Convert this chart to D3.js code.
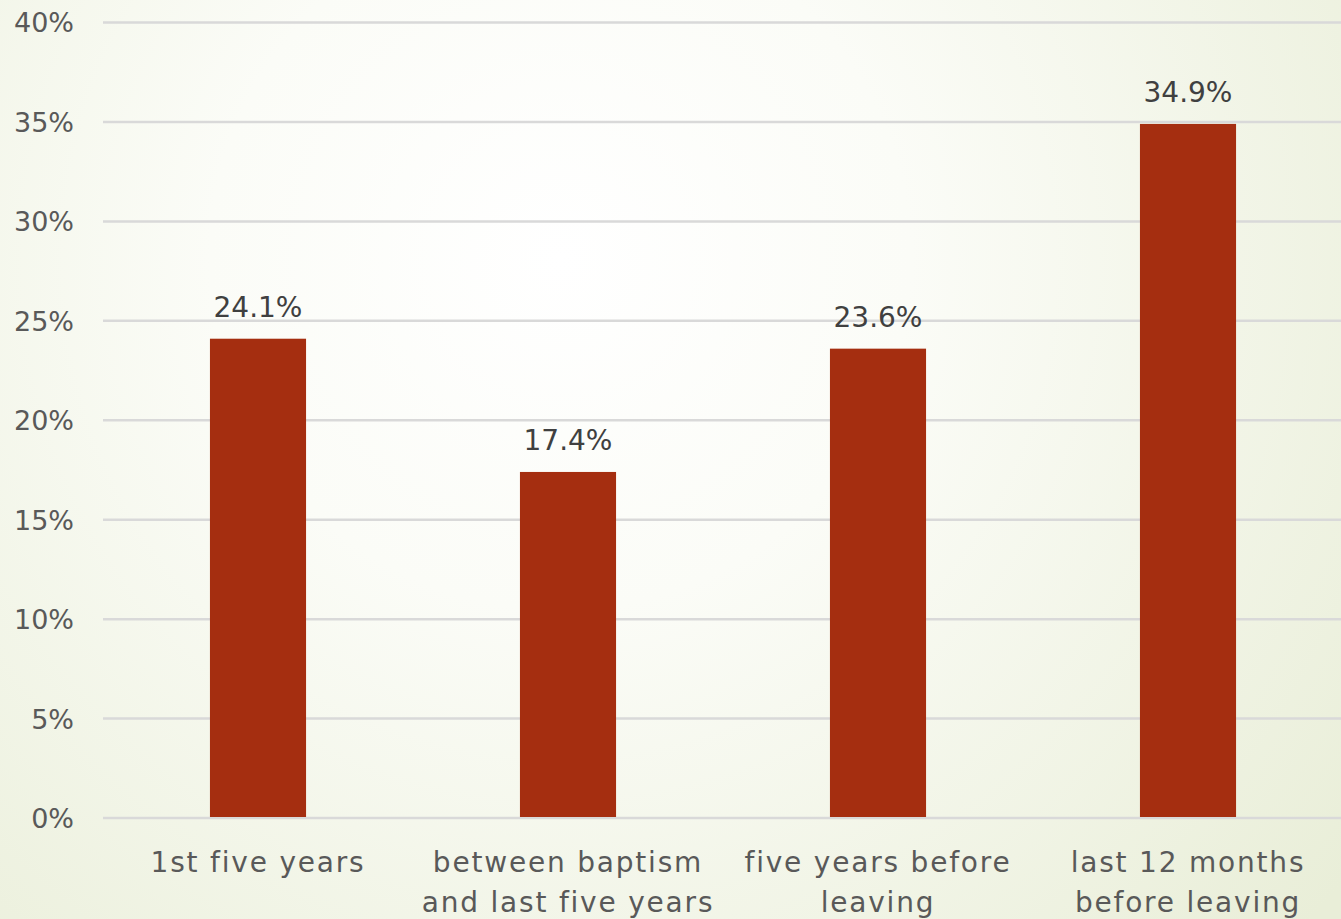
<!DOCTYPE html>
<html><head><meta charset="utf-8">
<script src="https://cdn.jsdelivr.net/npm/d3@7"></script>
<style>html,body{margin:0;padding:0;overflow:hidden;background:#f3f5ea}</style>
</head><body>
<svg id="chart" width="1341" height="919"></svg>
<script>
const categories = [["1st five years"], ["between baptism", "and last five years"], ["five years before", "leaving"], ["last 12 months", "before leaving"]];
const values = [24.1, 17.4, 23.6, 34.9];
const valueLabels = ["24.1%", "17.4%", "23.6%", "34.9%"];
const ticks = [0, 5, 10, 15, 20, 25, 30, 35, 40];

const W = 1341, H = 919;
const svg = d3.select("#chart");
const defs = svg.append("defs");
const grad = defs.append("radialGradient").attr("id","bg")
  .attr("gradientUnits","userSpaceOnUse").attr("cx",560).attr("cy",260).attr("r",1000);
grad.append("stop").attr("offset","0").attr("stop-color","#ffffff");
grad.append("stop").attr("offset","0.35").attr("stop-color","#fbfcf7");
grad.append("stop").attr("offset","1").attr("stop-color","#e9eed8");
svg.append("rect").attr("width",W).attr("height",H).attr("fill","url(#bg)");

const font = "'DejaVu Sans', sans-serif";
const x = d3.scaleBand().domain(d3.range(categories.length)).range([103, 1343]).paddingInner(0.69).paddingOuter(0.345);
const y = d3.scaleLinear().domain([0, 40]).range([818, 22.5]);

const yAxis = d3.axisLeft(y).tickValues(ticks).tickFormat(d => d + "%").tickSize(0).tickPadding(0);
const gAxis = svg.append("g").attr("transform","translate(74,0)").call(yAxis);
gAxis.select(".domain").remove();
gAxis.selectAll("text").attr("font-family",font).attr("font-size",27).attr("fill","#595959").attr("dy","0.35em");

svg.append("g").selectAll("line").data(ticks).join("line")
  .attr("x1",103).attr("x2",W).attr("y1",d=>y(d)).attr("y2",d=>y(d))
  .attr("stroke","#d9d9d9").attr("stroke-width",2.5);

svg.append("g").selectAll("rect").data(values).join("rect")
  .attr("x",(d,i)=>x(i)).attr("width",x.bandwidth())
  .attr("y",d=>y(d)).attr("height",d=>y(0)-y(d)-1)
  .attr("fill","#a52e10");

svg.append("g").selectAll("text").data(values).join("text")
  .attr("x",(d,i)=>x(i)+x.bandwidth()/2).attr("y",d=>y(d)-22)
  .attr("text-anchor","middle").attr("font-family",font).attr("font-size",28).attr("fill","#404040")
  .text((d,i)=>valueLabels[i]);

const cat = svg.append("g").selectAll("text").data(categories).join("text")
  .attr("x",(d,i)=>x(i)+x.bandwidth()/2).attr("y",872)
  .attr("text-anchor","middle").attr("font-family",font).attr("font-size",28).attr("fill","#595959")
  .attr("letter-spacing","1.8px");
cat.selectAll("tspan").data(d=>d).join("tspan")
  .attr("x",function(){return this.parentNode.getAttribute("x");})
  .attr("dy",(d,j)=>j===0?0:40).text(d=>d);
</script>
</body></html>
